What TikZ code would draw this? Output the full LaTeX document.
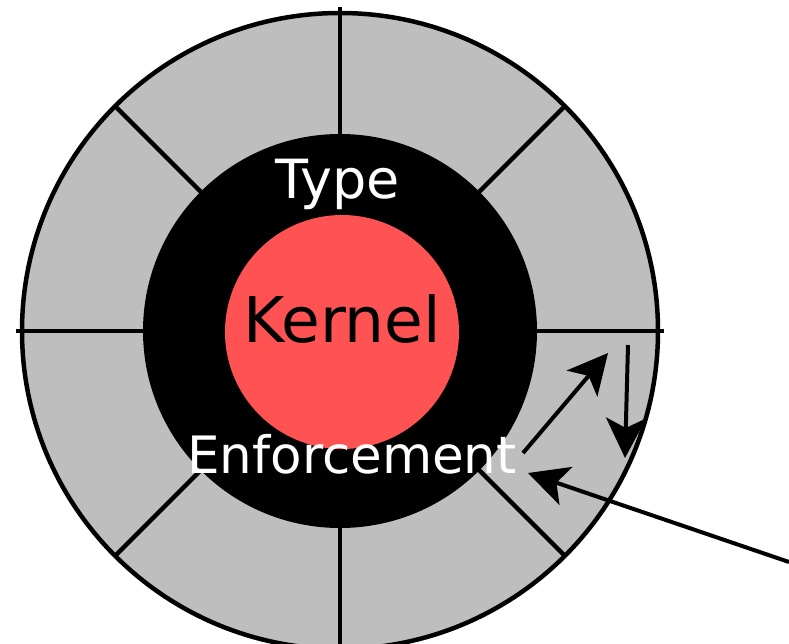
\documentclass[tikz,border=0pt]{standalone}
\usepackage{fontspec}
\setmainfont{DejaVu Sans}
\usetikzlibrary{arrows.meta}
\definecolor{ringgray}{RGB}{190,190,190}
\definecolor{kernelred}{RGB}{255,82,82}
\begin{document}
\begin{tikzpicture}[x=1pt,y=-1pt,
  divider/.style={line width=4.5pt},
  arrowline/.style={line width=4pt,-{Stealth[length=40pt,width=40pt,inset=10pt]}},
  bigtext/.style={font=\fontsize{54}{60}\selectfont, inner sep=0pt, anchor=base}]
\useasboundingbox (0,0) rectangle (789,643);
\coordinate (C) at (340,331);
\fill[ringgray] (C) circle[radius=318];
\foreach \a in {0,90,180,270} \draw[divider] (C) -- ++(\a:324);
\foreach \a in {45,135,225,315} \draw[divider] (C) -- ++(\a:318);
\draw[line width=4.5pt] (C) circle[radius=318];
\fill[black] (C) circle[radius=197];
\fill[kernelred] (342,332) circle[radius=117];
\node[bigtext, text=white] (type) at (338,198) {Type};
\node[bigtext, text=black, font=\fontsize{63}{70}\selectfont] (kernel) at (342,342) {Kernel};
\node[bigtext, text=white, font=\fontsize{51.5}{60}\selectfont] (enf) at (352,473) {Enforcement};
\coordinate (a1s) at (523,453);
\coordinate (a1e) at (608,353);
\coordinate (a2s) at (628,345);
\coordinate (a2e) at (625,458);
\coordinate (a3s) at (789,562);
\coordinate (a3e) at (528,473);
\draw[arrowline] (a1s) -- (a1e);
\draw[arrowline] (a2s) -- (a2e);
\draw[arrowline] (a3s) -- (a3e);
\end{tikzpicture}
\end{document}
